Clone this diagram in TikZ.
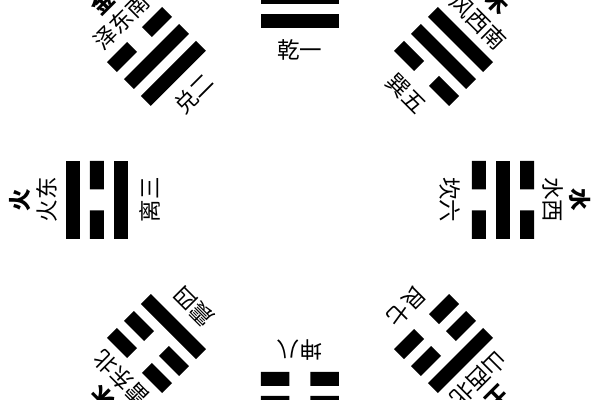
\documentclass[tikz,border=0pt]{standalone}
\usepackage{fontspec}
\newfontfamily\cjk{Noto Sans CJK SC}
\newcommand{\yang}[1]{\fill(-39, #1-7)rectangle(39, #1+7);}
\newcommand{\yin}[1]{\fill(-39, #1-7)rectangle(-10.5, #1+7)(10.5, #1-7)rectangle(39, #1+7);}
\tikzset{
	guaming/.style={font=\cjk\fontsize{16}{16}\selectfont, inner sep=0pt},
	wuxing/.style={font=\cjk\bfseries\fontsize{16}{16}\selectfont, inner sep=0pt}
}
\begin{document}
\begin{tikzpicture}[x=0.025cm, y=0.025cm]
		\useasboundingbox(-300, -200)rectangle(300, 200);
		\clip(-300, -200)rectangle(300, 200);
		\begin{scope}[rotate=0, transform shape]% 乾
			\yang{179}\yang{203}\yang{227}
			\node[guaming](qian)at(0, 150){乾一};
		\end{scope}
		\begin{scope}[rotate=45, transform shape]% 兑
			\yang{179}\yang{203}\yin{227}
			\node[guaming](dui)at(0, 150){兑二};
			\node[guaming](dui-fang)at(0, 253){泽东南};
			\node[wuxing](dui-xing)at(0, 280){金};
		\end{scope}
		\begin{scope}[rotate=90, transform shape]% 离
			\yang{179}\yin{203}\yang{227}
			\node[guaming](li)at(0, 150){离三};
			\node[guaming](li-fang)at(0, 253){火东};
			\node[wuxing](li-xing)at(0, 280){火};
		\end{scope}
		\begin{scope}[rotate=135, transform shape]% 震
			\yang{179}\yin{203}\yin{227}
			\node[guaming](zhen)at(0, 150){震四};
			\node[guaming](zhen-fang)at(0, 253){雷东北};
			\node[wuxing](zhen-xing)at(0, 280){木};
		\end{scope}
		\begin{scope}[rotate=-45, transform shape]% 巽
			\yin{179}\yang{203}\yang{227}
			\node[guaming](xun)at(0, 150){巽五};
			\node[guaming](xun-fang)at(0, 253){风西南};
			\node[wuxing](xun-xing)at(0, 280){木};
		\end{scope}
		\begin{scope}[rotate=-90, transform shape]% 坎
			\yin{179}\yang{203}\yin{227}
			\node[guaming](kan)at(0, 150){坎六};
			\node[guaming](kan-fang)at(0, 253){水西};
			\node[wuxing](kan-xing)at(0, 280){水};
		\end{scope}
		\begin{scope}[rotate=-135, transform shape]% 艮
			\yin{179}\yin{203}\yang{227}
			\node[guaming](gen)at(0, 150){艮七};
			\node[guaming](gen-fang)at(0, 253){山西北};
			\node[wuxing](gen-xing)at(0, 280){土};
		\end{scope}
		\begin{scope}[rotate=180, transform shape]% 坤
			\yin{179}\yin{203}\yin{227}
			\node[guaming](kun)at(0, 150){坤八};
		\end{scope}
	\end{tikzpicture}
\end{document}
